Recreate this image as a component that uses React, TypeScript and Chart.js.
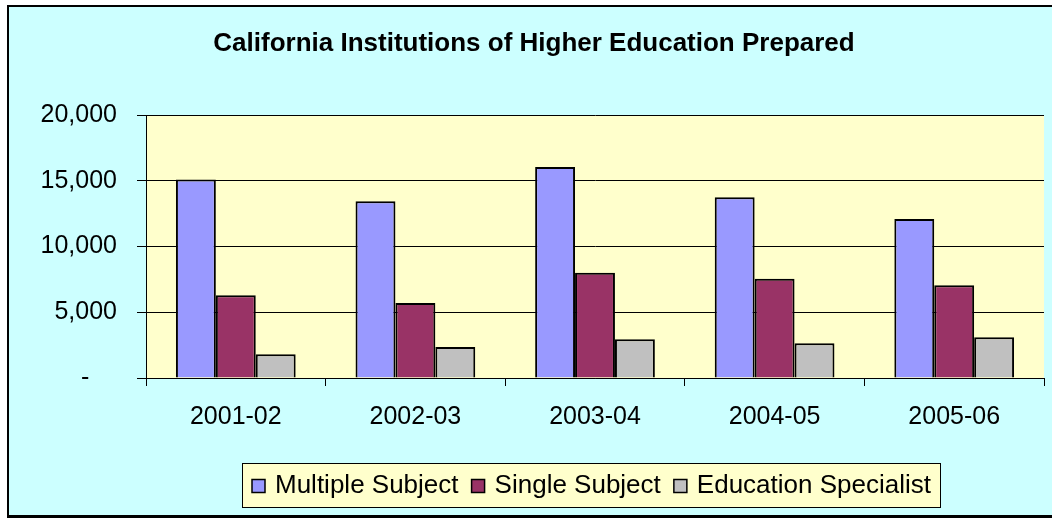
import React, { useEffect, useRef } from 'react';
import { Chart, registerables } from 'chart.js';

Chart.register(...registerables);

const TITLE = 'California Institutions of Higher Education Prepared';
const CATEGORIES = ['2001-02', '2002-03', '2003-04', '2004-05', '2005-06'];
const SERIES_NAMES = ['Multiple Subject', 'Single Subject', 'Education Specialist'];
const MULTIPLE_SUBJECT = [15100, 13450, 16050, 13750, 12100];
const SINGLE_SUBJECT = [6300, 5700, 8000, 7550, 7050];
const EDUCATION_SPECIALIST = [1800, 2350, 2950, 2650, 3100];
const Y_MIN = 0;
const Y_MAX = 20000;
const Y_STEP = 5000;
const SERIES_COLORS = ['#9999FF', '#993366', '#C0C0C0'];

const FONT = '"Liberation Sans", Arial, Helvetica, sans-serif';
const W = 1052;
const H = 518;

const framePlugin = {
  id: 'excelFrame',
  beforeDraw(chart: any) {
    const { ctx, chartArea } = chart;
    ctx.save();
    ctx.fillStyle = '#FFFFFF';
    ctx.fillRect(0, 0, W, H);
    ctx.fillStyle = '#000000';
    ctx.fillRect(7, 5, W - 7, H - 5);
    ctx.fillStyle = '#CCFFFF';
    ctx.fillRect(9, 7, W - 9, 508);
    ctx.fillStyle = '#FFFFCC';
    ctx.fillRect(
      chartArea.left,
      chartArea.top,
      chartArea.right - chartArea.left,
      chartArea.bottom - chartArea.top
    );
    ctx.restore();
  },
  afterDraw(chart: any) {
    const { ctx } = chart;
    const box = { left: 242, top: 463, right: 941, bottom: 508 };
    ctx.save();
    ctx.fillStyle = '#FFFFCC';
    ctx.fillRect(box.left, box.top, box.right - box.left, box.bottom - box.top);
    ctx.strokeStyle = '#000000';
    ctx.lineWidth = 1;
    ctx.strokeRect(box.left + 0.5, box.top + 0.5, box.right - box.left - 1, box.bottom - box.top - 1);

    ctx.font = `26px ${FONT}`;
    ctx.textBaseline = 'middle';
    ctx.textAlign = 'left';
    const datasets = chart.data.datasets;
    const sq = 13;
    const textGap = 10;
    const pad = 10;
    const widths = datasets.map((d: any) => ctx.measureText(d.label).width);
    const used = widths.reduce((a: number, b: number) => a + b, 0) + datasets.length * (sq + textGap);
    const inner = box.right - box.left - 2 * pad;
    const gap = datasets.length > 1 ? (inner - used) / (datasets.length - 1) : 0;
    let x = box.left + pad;
    const cy = (box.top + box.bottom) / 2;
    datasets.forEach((d: any, i: number) => {
      ctx.fillStyle = d.backgroundColor;
      ctx.fillRect(x, cy - sq / 2 + 0.5, sq, sq);
      ctx.strokeStyle = '#000000';
      ctx.lineWidth = 1.5;
      ctx.strokeRect(x, cy - sq / 2 + 0.5, sq, sq);
      ctx.fillStyle = '#000000';
      ctx.fillText(d.label, x + sq + textGap, cy);
      x += sq + textGap + widths[i] + gap;
    });
    ctx.restore();
  },
};

export default function App() {
  const canvasRef = useRef<HTMLCanvasElement | null>(null);

  useEffect(() => {
    if (!canvasRef.current) return;
    Chart.defaults.font.family = FONT;
    const seriesValues = [MULTIPLE_SUBJECT, SINGLE_SUBJECT, EDUCATION_SPECIALIST];
    const chart = new Chart(canvasRef.current, {
      type: 'bar',
      data: {
        labels: CATEGORIES,
        datasets: SERIES_NAMES.map((name, i) => ({
          label: name,
          data: seriesValues[i],
          backgroundColor: SERIES_COLORS[i],
          borderColor: '#000000',
          borderWidth: 2,
          barPercentage: 1,
          categoryPercentage: 2 / 3,
        })),
      },
      options: {
        animation: false,
        responsive: false,
        devicePixelRatio: 1,
        layout: { padding: { left: 24, right: 8, top: 0, bottom: 0 } },
        plugins: {
          legend: { display: false },
          tooltip: { enabled: false },
          title: {
            display: true,
            text: TITLE,
            color: '#000000',
            font: { family: FONT, size: 26, weight: 'bold' },
            padding: { top: 28, bottom: 55.8 },
          },
        },
        scales: {
          x: {
            offset: true,
            grid: {
              display: true,
              drawOnChartArea: false,
              drawTicks: true,
              tickLength: 8,
              color: '#000000',
              offset: true,
            },
            border: { display: true, color: '#000000', width: 1 },
            ticks: {
              color: '#000000',
              font: { family: FONT, size: 25 },
              padding: 16,
              maxRotation: 0,
              autoSkip: false,
            },
            afterFit(scale: any) {
              scale.height = 140;
            },
          },
          y: {
            min: Y_MIN,
            max: Y_MAX,
            grid: {
              color: '#000000',
              tickLength: 9,
              drawTicks: true,
            },
            border: { display: true, color: '#000000', width: 1 },
            ticks: {
              stepSize: Y_STEP,
              color: '#000000',
              font: { family: FONT, size: 25 },
              padding: 20,
              callback: (v: any) => (Number(v) === 0 ? '-    ' : Number(v).toLocaleString('en-US')),
            },
            afterFit(scale: any) {
              scale.width = 122;
            },
          },
        },
      },
      plugins: [framePlugin],
    } as any);
    return () => chart.destroy();
  }, []);

  return (
    <div style={{ position: 'fixed', left: 0, top: 0, width: W, height: H }}>
      <canvas ref={canvasRef} width={W} height={H} style={{ display: 'block', width: W, height: H }} />
    </div>
  );
}
